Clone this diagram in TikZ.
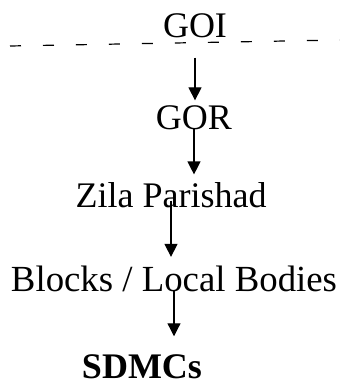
\documentclass[tikz,border=0pt]{standalone}
\usepackage{fontspec}
\setmainfont{Liberation Serif}
\usetikzlibrary{arrows.meta}
\begin{document}
\begin{tikzpicture}[
		x=1pt, y=1pt,
		tier/.style={inner sep=0pt, anchor=base, font=\fontsize{36}{40}\selectfont},
		link/.style={line width=1.2pt, -{Triangle[width=13pt,length=13pt]}},
		boundary/.style={line width=1.2pt, dash pattern=on 11pt off 22pt}
	]
	\useasboundingbox (0,0) rectangle (340,386);
	\draw[boundary] (10,340) -- (340,346);
	\node[tier] (goi) at (195,348) {GOI};
	\node[tier] (gor) at (194,256) {GOR};
	\node[tier] (zila) at (171,178) {Zila Parishad};
	\node[tier, font=\fontsize{36.8}{40}\selectfont] (blocks) at (174,94) {Blocks / Local Bodies};
	\node[tier, font=\fontsize{36}{40}\selectfont\bfseries] (sdmcs) at (142,7) {SDMCs};
	\draw[link, shorten <=19pt, shorten >=5.6pt] (goi.south) -- (goi.south |- gor.north);
	\draw[link, shorten <=-2.5pt, shorten >=8.4pt] (gor.south) -- (gor.south |- zila.north);
	\draw[link, shorten <=-8pt, shorten >=9.4pt] (zila.south) -- (zila.south |- blocks.north);
	\draw[link, shorten <=-2.5pt, shorten >=18.7pt] (blocks.south) -- (blocks.south |- sdmcs.north);
\end{tikzpicture}
\end{document}
